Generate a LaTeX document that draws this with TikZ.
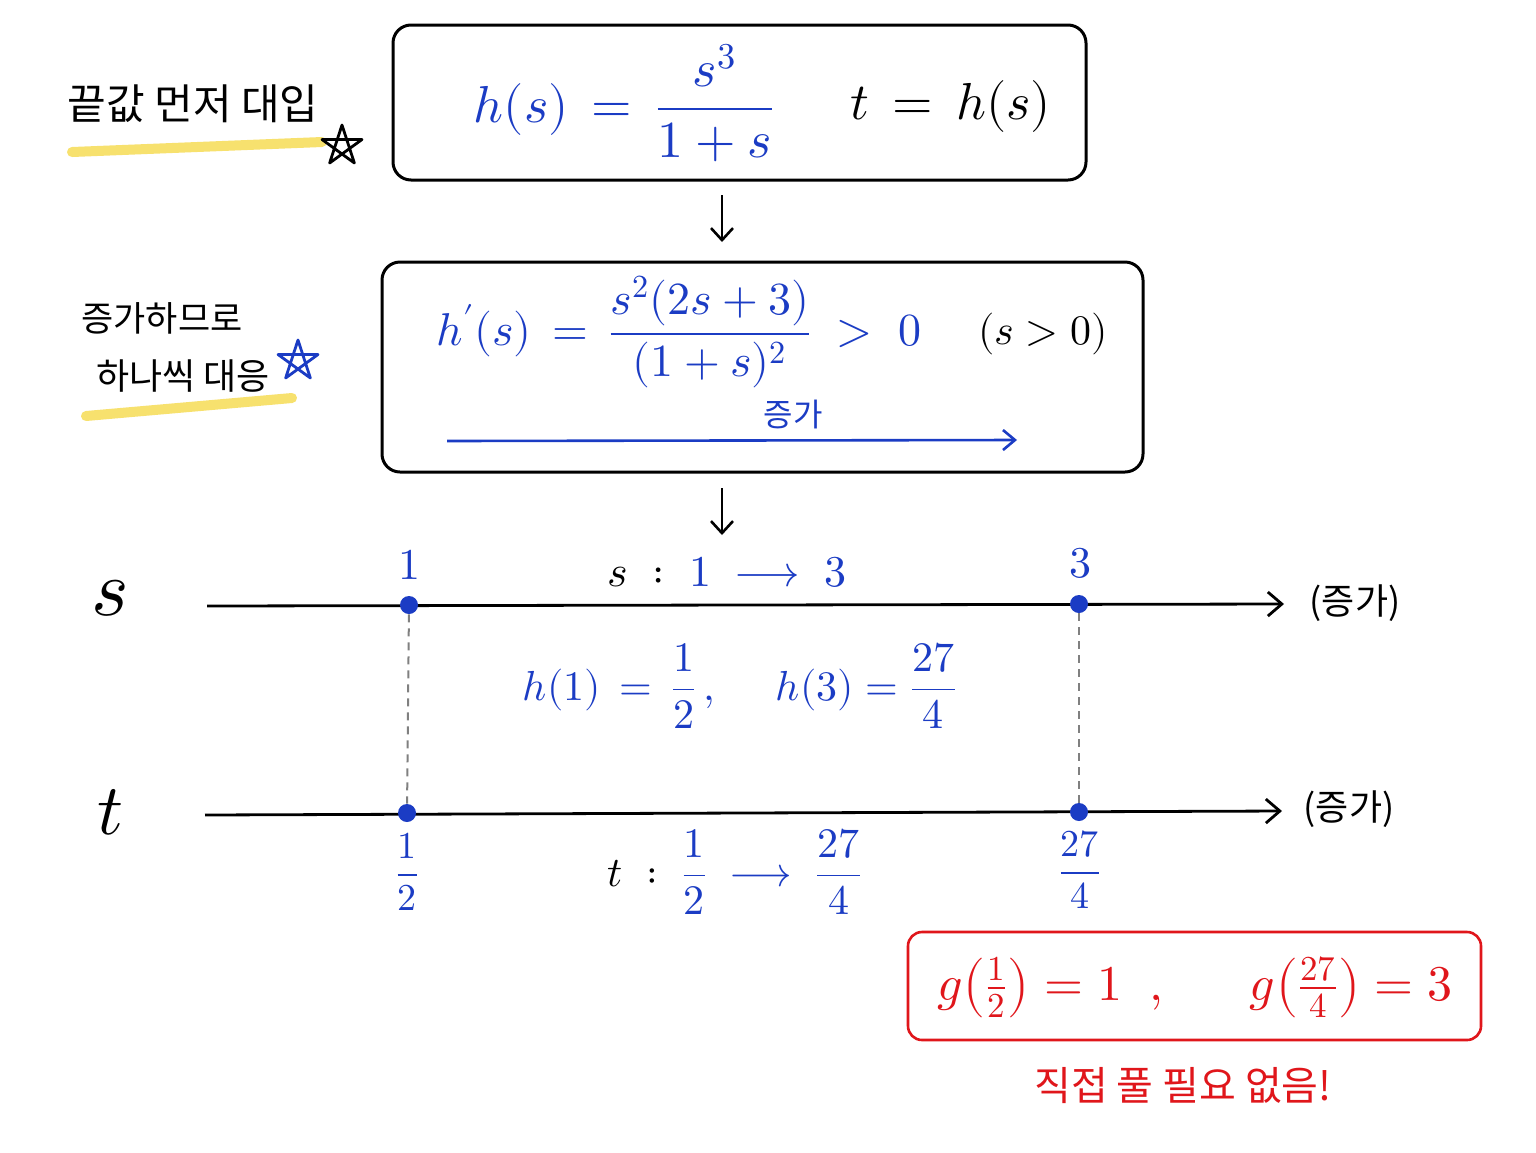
\documentclass[tikz,border=0pt]{standalone}
\usepackage{fontspec}
\usepackage{amsmath}
\usepackage{unicode-math}
\setmathfont{Latin Modern Math}
\newfontfamily\kr{Noto Sans CJK KR}
\usetikzlibrary{arrows.meta}
\definecolor{pblue}{HTML}{1B3CC4}
\definecolor{pred}{HTML}{E0161B}
\definecolor{hl}{HTML}{F6DC55}
\definecolor{dgray}{HTML}{808080}
\tikzset{
  box/.style={draw=black, line width=1.5pt, rounded corners=9pt, minimum width=#1},
  box/.default=10pt,
  redbox/.style={draw=pred, line width=1.3pt, rounded corners=7pt},
  arr/.style={line width=1.3pt, -{Straight Barb[length=6pt,width=11pt]}},
  axis/.style={line width=1.4pt, -{Straight Barb[length=7pt,width=12pt]}},
  barr/.style={draw=pblue, line width=1.3pt, -{Straight Barb[length=6pt,width=10pt]}},
  dotn/.style={circle, fill=pblue, inner sep=0pt, minimum size=9pt},
  dash line/.style={draw=dgray, line width=1pt, dash pattern=on 4pt off 3pt},
  hilite/.style={draw=hl, line width=5pt, line cap=round, opacity=0.85},
  krlab/.style={font=\kr\fontsize{#1}{#1}\selectfont},
  eq/.style={font=\fontsize{#1}{#1}\selectfont, inner sep=0pt},
  starb/.style={line width=1.4pt, line join=round},
}
\begin{document}
\begin{tikzpicture}[x=0.5pt,y=-0.5pt]
\useasboundingbox[fill=white] (0,0) rectangle (1536,1152);

% ---- left side notes ----
\draw[hilite] (72,152) -- (322,142);
\node[krlab=21] (n1) at (193,104) {끝값 먼저 대입};
\draw[starb] (342,146) +(-90:21) -- +(54:21) -- +(198:21) -- +(342:21) -- +(126:21) -- cycle;

\draw[hilite] (86,416) -- (292,398);
\node[krlab=17.5] (n2) at (162,318) {증가하므로};
\node[krlab=18] (n3) at (183,376) {하나씩 대응};
\draw[starb, draw=pblue] (298,361) +(-90:21) -- +(54:21) -- +(198:21) -- +(342:21) -- +(126:21) -- cycle;

% ---- box 1 ----
\node[box=346.5pt, minimum height=77.5pt] (b1) at (739.5,102.5) {};
\node[eq=26, text=pblue] (e1) at (624,103) {$h(s)\,=\,\dfrac{s^{3}}{1+s}$};
\node[eq=26] (e2) at (951,106) {$t\,=\,h(s)$};

\coordinate (d1a) at (722,195);
\coordinate (d1b) at (722,242);
\draw[arr] (d1a) -- (d1b);

% ---- box 2 ----
\node[box=380.5pt, minimum height=105pt] (b2) at (762.5,367) {};
\node[eq=23, text=pblue] (e3) at (679,332) {$h^{\prime}(s)\,=\,\dfrac{s^{2}(2s+3)}{(1+s)^{2}}\;>\;0$};
\node[eq=21] (e4) at (1043,334) {$(s>0)$};
\node[krlab=16, text=pblue] (inc) at (793,414) {증가};
\coordinate (ba) at (447,441);
\coordinate (bb) at (1017,440);
\draw[barr] (ba) -- (bb);

\coordinate (d2a) at (722,488);
\coordinate (d2b) at (722,535);
\draw[arr] (d2a) -- (d2b);

% ---- s axis ----
\node[eq=40] (slab) at (110,598) {$s$};
\coordinate (sL) at (207,606);
\coordinate (sR) at (1284,604);
\draw[axis] (sL) -- (sR);
\node[dotn] (s1) at (409,605) {};
\node[dotn] (s3) at (1079,604) {};
\node[eq=22, text=pblue] (s1l) at (409,565) {$1$};
\node[eq=22, text=pblue] (s3l) at (1080,563) {$3$};
\node[eq=22, text=pblue] (smap) at (727,572) {$\color{black}s\;:\;\color{pblue}1\;\longrightarrow\;3$};
\node[krlab=18] (sinc) at (1355,603) {(증가)};

% ---- values ----
\node[eq=21, text=pblue] (hv) at (740,686) {$h(1)\,=\,\dfrac{1}{2}\,,\quad\; h(3)=\dfrac{27}{4}$};

% ---- t axis ----
\node[eq=36] (tlab) at (110,812) {$t$};
\coordinate (tL) at (205,815);
\coordinate (tR) at (1282,811);
\draw[axis] (tL) -- (tR);
\node[dotn] (t1) at (407,813) {};
\node[dotn] (t3) at (1079,812) {};
\draw[dash line] (s1) -- (t1);
\draw[dash line] (s3) -- (t3);
\node[eq=19, text=pblue] (t1l) at (407,872) {$\dfrac{1}{2}$};
\node[eq=19, text=pblue] (t3l) at (1080,870) {$\dfrac{27}{4}$};
\node[eq=21, text=pblue] (tmap) at (735,872) {$\color{black}t\;:\;\color{pblue}\dfrac{1}{2}\;\longrightarrow\;\dfrac{27}{4}$};
\node[krlab=18] (tinc) at (1349,809) {(증가)};

% ---- red result ----
\node[redbox, minimum width=286.5pt, minimum height=54pt] (rb) at (1194.5,986) {};
\node[eq=25, text=pred] (ge) at (1195,987) {$g\!\left(\frac{1}{2}\right)=1\;\;,\quad\;\; g\!\left(\frac{27}{4}\right)=3$};
\node[krlab=20, text=pred] (note) at (1183,1086) {직접 풀 필요 없음!};
\end{tikzpicture}
\end{document}
